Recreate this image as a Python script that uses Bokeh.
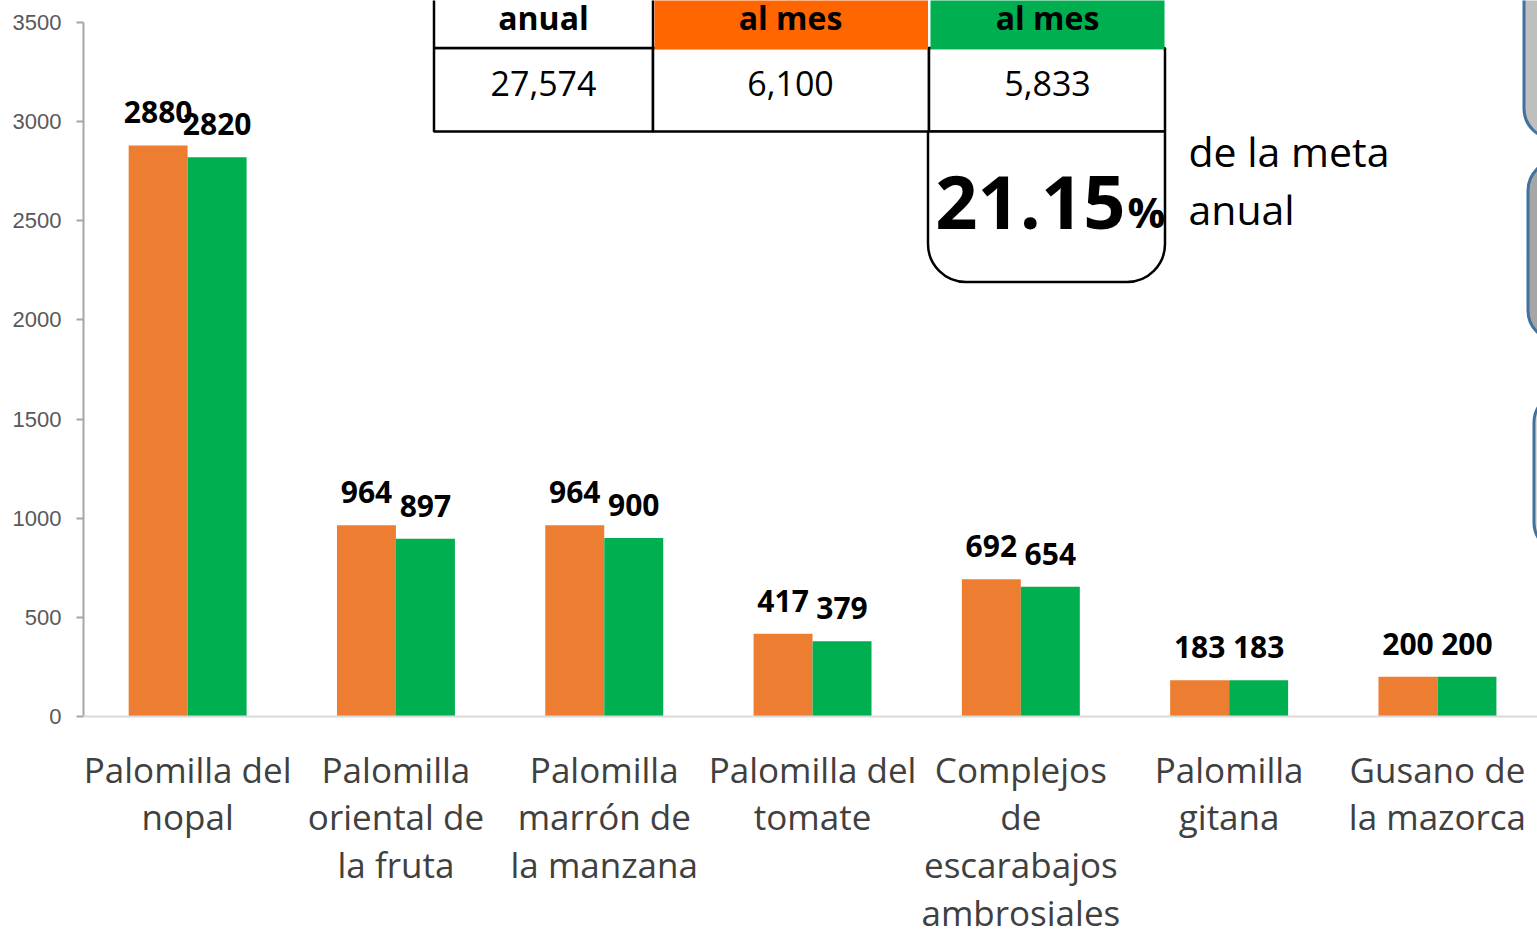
from bokeh.plotting import figure
from bokeh.models import Range1d, FixedTicker, Span, BoxAnnotation, Label
from bokeh.core.properties import value
from bokeh.embed import file_html
from bokeh.resources import INLINE

# ---------------- data ----------------
categories = [
    "Palomilla del\nnopal",
    "Palomilla\noriental de\nla fruta",
    "Palomilla\nmarrón de\nla manzana",
    "Palomilla del\ntomate",
    "Complejos\nde\nescarabajos\nambrosiales",
    "Palomilla\ngitana",
    "Gusano de\nla mazorca",
]
programado = [2880, 964, 964, 417, 692, 183, 200]
realizado = [2820, 897, 900, 379, 654, 183, 200]
y_ticks = [0, 500, 1000, 1500, 2000, 2500, 3000, 3500]

table_headers = ["anual", "al mes", "al mes"]
table_values = ["27,574", "6,100", "5,833"]
avance = "21.15"
avance_unit = "%"
avance_text = ["de la meta", "anual"]

# ---------------- layout constants ----------------
W, H = 1537, 929
LEFT = 83
Y0_PX = 716            # canvas px of value 0
K = 694 / 3500         # px per unit
CAT_PX = 208.3         # px per category

ORANGE = "#ED7D31"
GREEN = "#00B050"

p = figure(
    width=W, height=H, output_backend="svg", toolbar_location=None,
    x_range=Range1d(-0.5, -0.5 + (W - LEFT) / CAT_PX),
    y_range=Range1d(-(H - Y0_PX) / K, Y0_PX / K),
    x_axis_location=None,
    min_border_left=LEFT, min_border_right=0, min_border_top=0, min_border_bottom=0,
)
p.outline_line_color = None
p.grid.visible = False
p.background_fill_color = "white"
p.border_fill_color = "white"

ya = p.yaxis[0]
ya.ticker = FixedTicker(ticks=y_ticks)
ya.bounds = (y_ticks[0], y_ticks[-1])
ya.axis_line_color = "#a6a6a6"
ya.axis_line_width = 2
ya.major_tick_line_color = "#a6a6a6"
ya.major_tick_line_width = 2
ya.major_tick_in = 0
ya.major_tick_out = 7
ya.minor_tick_line_color = None
ya.major_label_text_font = "Liberation Sans"
ya.major_label_text_font_size = "22px"
ya.major_label_text_color = "#595959"
ya.major_label_standoff = 15

p.add_layout(Span(location=0, dimension="width", line_color="#d9d9d9", line_width=2))

n = len(categories)
dx = 0.1416
bw = 0.283
x_o = [i - dx for i in range(n)]
x_g = [i + dx for i in range(n)]

p.vbar(x=x_o, top=programado, width=bw, fill_color=ORANGE, line_color=None)
p.vbar(x=x_g, top=realizado, width=bw, fill_color=GREEN, line_color=None)

for xs, vals in ((x_o, programado), (x_g, realizado)):
    p.text(x=xs, y=vals, text=[str(v) for v in vals],
           text_font=value("Open Sans"), text_font_style="bold", text_font_size="30px",
           text_align="center", text_baseline="alphabetic", y_offset=-33, text_color="black")

p.text(x=list(range(n)), y=[0] * n, text=categories,
       text_font=value("Open Sans"), text_font_size="35px", text_color="#404040",
       text_align="center", text_baseline="top", y_offset=29, text_line_height=1.02)

# ---------------- overlay (window px -> frame screen units) ----------------
def sx(rx):
    return rx - LEFT

def sy(ry):
    return H - ry

def box(l, r, t, b, fill, line="black", lw=2.5, radius=0):
    p.add_layout(BoxAnnotation(
        left=sx(l), right=sx(r), top=sy(t), bottom=sy(b),
        left_units="screen", right_units="screen", top_units="screen", bottom_units="screen",
        fill_color=fill, fill_alpha=1.0, line_color=line, line_width=lw, line_alpha=1.0,
        border_radius=radius))

def label(rx, ry, text, size, bold=False, align="center", color="black"):
    p.add_layout(Label(
        x=sx(rx), y=sy(ry), x_units="screen", y_units="screen", text=text,
        text_font="Open Sans", text_font_size=size,
        text_font_style="bold" if bold else "normal",
        text_align=align, text_baseline="alphabetic", text_color=color))

cols = [433.5, 652.5, 928.5, 1164.5]
# value row
for i in range(3):
    box(cols[i], cols[i + 1], 47.5, 131, "white")
# header row
box(cols[0], cols[1], -40, 47.5, "white")
box(cols[1] + 1.5, cols[2] - 1, -40, 48.5, "#FF6600", line=None)
box(cols[2] + 1.5, cols[3] - 0.5, -40, 48.5, GREEN, line=None)
# rounded box
box(927.5, 1164.5, 131, 281.5, "white", radius=(0, 0, 38, 38))

centers = [543, 790, 1047]
for c, h in zip(centers, table_headers):
    label(c, 17, h, "32px", bold=True)
for c, v in zip(centers, table_values):
    label(c, 83, v, "34px")

label(1125, 202, avance, "74px", bold=True, align="right")
label(1127, 211, avance_unit, "42px", bold=True, align="left")
label(1188, 150, avance_text[0], "41px", align="left")
label(1188, 208, avance_text[1], "41px", align="left")

# side panels partially visible at the right edge
box(1523.5, 1700, -60, 138, "#BFBFBF", line="#41719C", lw=3, radius=30)
box(1527.5, 1700, 160, 340, "#A6A6A6", line="#41719C", lw=3, radius=30)
box(1533.5, 1700, 392, 552, "#D9D9D9", line="#41719C", lw=3, radius=30)

open("out.html", "w").write(file_html(p, INLINE))
